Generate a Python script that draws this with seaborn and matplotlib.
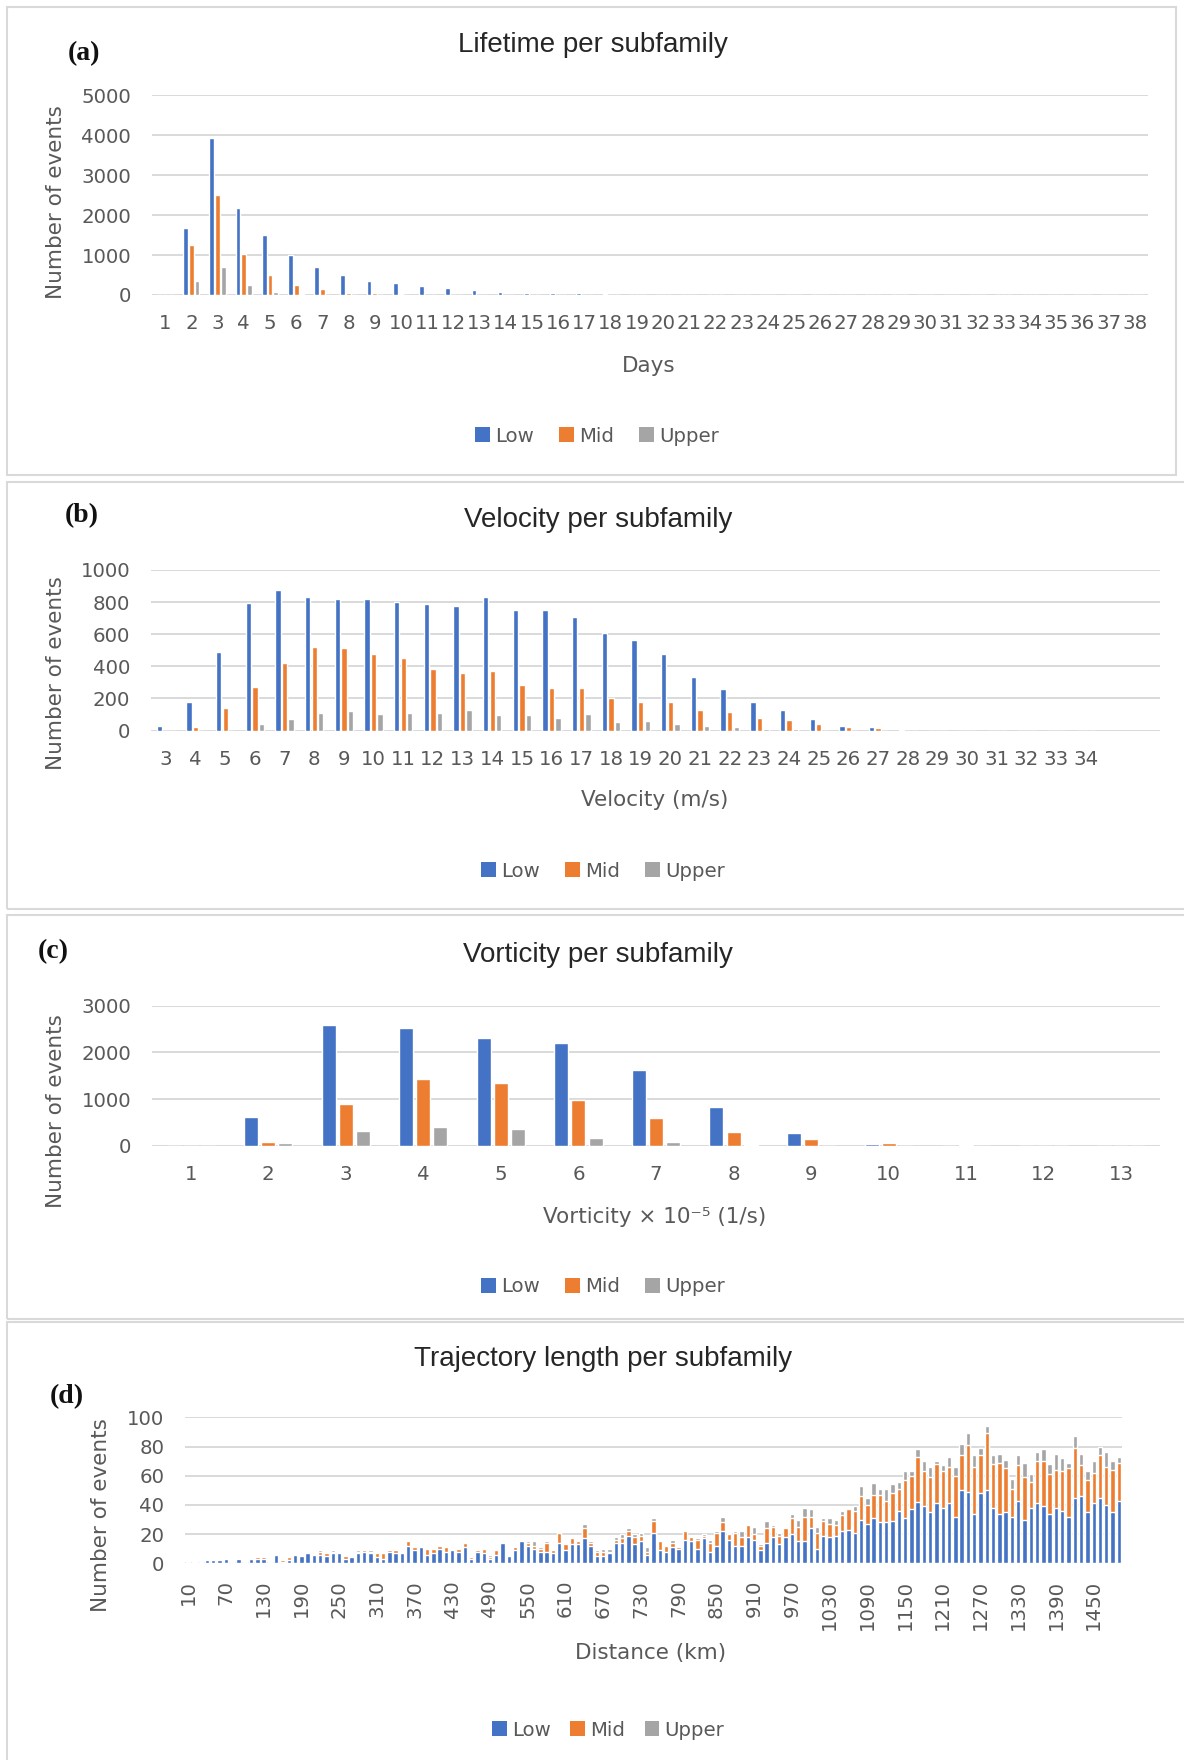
import matplotlib
matplotlib.use("Agg")
import matplotlib.pyplot as plt
from matplotlib.patches import Rectangle, Patch
import numpy as np
import pandas as pd
import seaborn as sns

# ---------------- data ----------------
levels = ["Low", "Mid", "Upper"]
level_colors = ["#4472C4", "#ED7D31", "#A5A5A5"]

# (a) lifetime in days
life_days = [str(d) for d in range(1, 39)]
life_low = [0, 1690, 3940, 2180, 1500, 990, 700, 510, 360, 290, 220, 170, 120, 70, 45, 55, 45, 25,
            0, 0, 0, 0, 0, 0, 0, 0, 0, 0, 0, 0, 0, 0, 0, 0, 0, 0, 0, 0]
life_mid = [0, 1250, 2500, 1020, 500, 255, 145, 50, 40, 25, 0, 0, 0, 0, 0, 0, 0, 0,
            0, 0, 0, 0, 0, 0, 0, 0, 0, 0, 0, 0, 0, 0, 0, 0, 0, 0, 0, 0]
life_up = [0, 360, 710, 250, 85, 25, 0, 0, 0, 0, 0, 0, 0, 0, 0, 0, 0, 0,
           0, 0, 0, 0, 0, 0, 0, 0, 0, 0, 0, 0, 0, 0, 0, 0, 0, 0, 0, 0]

# (b) velocity (m/s)
vel_bins = [str(v) for v in range(3, 35)]
vel_low = [31, 177, 488, 796, 873, 833, 819, 819, 802, 788, 773, 829, 752, 752, 708, 610,
           567, 477, 331, 260, 181, 129, 73, 31, 21, 5, 0, 0, 0, 0, 0, 0]
vel_mid = [0, 25, 138, 271, 421, 519, 515, 479, 454, 383, 356, 369, 285, 265, 265, 204,
           177, 175, 131, 115, 81, 69, 44, 23, 15, 0, 0, 0, 0, 0, 0, 0]
vel_up = [0, 0, 0, 44, 73, 108, 125, 106, 108, 108, 131, 96, 100, 79, 102, 54,
          58, 38, 29, 23, 10, 8, 0, 0, 0, 0, 0, 0, 0, 0, 0, 0]

# (c) vorticity x 1e-5 (1/s)
vort_bins = [str(v) for v in range(1, 14)]
vort_low = [0, 614, 2579, 2521, 2307, 2200, 1629, 830, 270, 50, 0, 0, 0]
vort_mid = [0, 79, 893, 1429, 1336, 979, 600, 290, 150, 70, 20, 0, 0]
vort_up = [0, 71, 329, 407, 364, 179, 93, 25, 0, 0, 0, 0, 0]

# (d) trajectory length (km), 10 km bins
dist_bins = [str(d) for d in range(10, 1500, 10)]
dist_low = [1, 1, 1, 2, 2, 2, 3, 1, 3, 1, 3, 3, 3, 0, 6, 1, 2, 6, 5, 7,
            6, 6, 5, 7, 7, 3, 4, 7, 8, 7, 4, 3, 8, 7, 7, 12, 9, 11, 6, 7,
            10, 8, 9, 8, 11, 3, 8, 7, 3, 6, 14, 5, 9, 15, 12, 10, 8, 8, 7, 14,
            9, 13, 13, 17, 12, 5, 5, 7, 14, 14, 19, 13, 15, 6, 21, 9, 8, 11, 10, 16,
            15, 10, 17, 8, 12, 22, 16, 12, 12, 18, 16, 9, 14, 18, 13, 18, 20, 15, 15, 24,
            10, 19, 18, 19, 22, 23, 21, 30, 27, 31, 28, 28, 29, 36, 31, 37, 42, 39, 35, 41,
            38, 41, 32, 50, 49, 34, 48, 50, 38, 34, 35, 32, 43, 30, 38, 41, 39, 34, 38, 36,
            32, 45, 46, 35, 41, 45, 40, 35, 43]
dist_mid = [0, 0, 0, 0, 0, 1, 0, 0, 0, 0, 0, 1, 1, 1, 0, 1, 2, 0, 0, 0,
            0, 2, 2, 1, 1, 2, 0, 1, 1, 1, 3, 4, 1, 2, 0, 3, 2, 0, 4, 3,
            2, 3, 0, 2, 3, 1, 1, 3, 1, 3, 0, 1, 2, 1, 2, 2, 2, 6, 2, 7,
            4, 4, 2, 7, 2, 3, 3, 1, 2, 3, 3, 5, 4, 2, 8, 6, 4, 3, 1, 6,
            3, 6, 2, 6, 9, 6, 4, 9, 6, 8, 4, 3, 10, 7, 6, 6, 11, 10, 17, 8,
            11, 10, 9, 7, 11, 14, 15, 16, 13, 16, 19, 15, 19, 15, 26, 23, 31, 24, 24, 27,
            25, 25, 28, 24, 32, 32, 26, 39, 30, 35, 30, 19, 24, 29, 18, 29, 31, 27, 26, 27,
            33, 34, 21, 22, 21, 29, 26, 29, 26]
dist_up = [0, 0, 0, 0, 0, 0, 0, 0, 0, 0, 0, 0, 0, 0, 0, 0, 0, 0, 0, 1,
           0, 1, 0, 1, 0, 0, 0, 1, 0, 1, 0, 0, 1, 1, 0, 1, 0, 0, 0, 0,
           0, 0, 0, 0, 0, 1, 0, 0, 2, 1, 0, 0, 1, 0, 1, 3, 1, 1, 1, 0,
           0, 0, 1, 3, 1, 1, 2, 2, 2, 3, 2, 2, 2, 3, 2, 1, 0, 2, 1, 1,
           1, 1, 1, 2, 1, 4, 1, 1, 4, 1, 5, 1, 5, 1, 2, 1, 3, 5, 6, 5,
           4, 2, 4, 4, 3, 1, 3, 7, 5, 8, 4, 8, 6, 5, 6, 3, 5, 7, 7, 2,
           4, 7, 6, 8, 8, 8, 5, 5, 6, 6, 6, 7, 7, 10, 5, 6, 8, 7, 11, 9,
           4, 8, 8, 6, 8, 6, 10, 6, 4]

# ---------------- styling ----------------
sns.set_theme(style="white")
plt.rcParams["font.family"] = ["DejaVu Sans"]

W, H = 1184, 1760
GRID = "#D9D9D9"
TXT = "#595959"
TICK_FS = 14.2
LABEL_FS = 15.5


def fx(px):
    return px / W


def fy(py):
    return 1 - py / H


def axes_box(fig, x0, x1, y_top, y_bot):
    return fig.add_axes([fx(x0), fy(y_bot), fx(x1) - fx(x0), (y_bot - y_top) / H])


def style_axes(ax, yticks, xpad=14, ypad=15):
    for s in ax.spines.values():
        s.set_visible(False)
    ax.set_axisbelow(True)
    ax.yaxis.grid(True, color=GRID, lw=1.4)
    ax.xaxis.grid(False)
    ax.set_yticks(yticks)
    ax.set_ylim(yticks[0], yticks[-1])
    ax.tick_params(axis="both", length=0, labelsize=TICK_FS, labelcolor=TXT)
    ax.tick_params(axis="x", pad=xpad)
    ax.tick_params(axis="y", pad=ypad)
    ax.set_xlabel("")
    ax.set_ylabel("")


def grouped_bars(ax, cats, low, mid, up):
    df = pd.DataFrame({
        "cat": cats * 3,
        "level": [levels[0]] * len(cats) + [levels[1]] * len(cats) + [levels[2]] * len(cats),
        "count": list(low) + list(mid) + list(up),
    })
    sns.barplot(data=df, x="cat", y="count", hue="level", order=cats,
                hue_order=levels, palette=level_colors, width=0.66, gap=0.18,
                saturation=1, errorbar=None, legend=False, ax=ax)


def legend_at(fig, x, y, colspace=1.3):
    handles = [Patch(facecolor=c, edgecolor="none") for c in level_colors]
    fig.legend(handles, levels, loc="center", bbox_to_anchor=(fx(x), fy(y)),
               ncol=3, frameon=False, handlelength=0.75, handleheight=0.75,
               handletextpad=0.25, columnspacing=colspace, fontsize=TICK_FS,
               labelcolor=TXT, borderaxespad=0)


def panel_frame(fig, x0, y0, x1, y1):
    fig.add_artist(Rectangle((fx(x0), fy(y1)), fx(x1) - fx(x0), (y1 - y0) / H,
                             transform=fig.transFigure, fill=False,
                             edgecolor=GRID, lw=1.5, clip_on=False))


def texts(fig, tag, tag_xy, title, title_xy, xlabel, xlabel_xy, ylabel_xy):
    fig.text(fx(tag_xy[0]), fy(tag_xy[1]), tag, ha="center", va="center",
             fontsize=20, fontweight="bold", family=["Liberation Serif", "DejaVu Serif"],
             color="#111111")
    fig.text(fx(title_xy[0]), fy(title_xy[1]), title, ha="center", va="center",
             fontsize=20, family=["Liberation Sans", "DejaVu Sans"], color="#262626")
    fig.text(fx(xlabel_xy[0]), fy(xlabel_xy[1]), xlabel, ha="center", va="center",
             fontsize=LABEL_FS, color=TXT)
    fig.text(fx(ylabel_xy[0]), fy(ylabel_xy[1]), "Number of events", ha="center",
             va="center", rotation=90, fontsize=LABEL_FS, color=TXT)


fig = plt.figure(figsize=(W / 100, H / 100), dpi=100)
fig.patch.set_facecolor("white")

# panel frames
panel_frame(fig, 7, 7, 1176, 475)
panel_frame(fig, 7, 482, 1200, 909)
panel_frame(fig, 7, 915, 1200, 1319)
panel_frame(fig, 7, 1322, 1200, 1780)

# (a) lifetime
ax_a = axes_box(fig, 152, 1148, 95.4, 295)
grouped_bars(ax_a, life_days, life_low, life_mid, life_up)
style_axes(ax_a, [0, 1000, 2000, 3000, 4000, 5000])
texts(fig, "(a)", (84, 54), "Lifetime per subfamily", (593, 45), "Days", (649, 366), (56, 202))
legend_at(fig, 597, 436)

# (b) velocity
ax_b = axes_box(fig, 151, 1160, 570, 730.6)
grouped_bars(ax_b, vel_bins, vel_low, vel_mid, vel_up)
ax_b.set_xlim(-0.5, len(vel_bins) + 1.5)
style_axes(ax_b, [0, 200, 400, 600, 800, 1000])
texts(fig, "(b)", (82, 516), "Velocity per subfamily", (598, 520), "Velocity (m/s)", (655, 800), (56, 673))
legend_at(fig, 603, 871)

# (c) vorticity
ax_c = axes_box(fig, 152, 1160, 1005.6, 1145.9)
grouped_bars(ax_c, vort_bins, vort_low, vort_mid, vort_up)
style_axes(ax_c, [0, 1000, 2000, 3000])
texts(fig, "(c)", (53, 952), "Vorticity per subfamily", (598, 955),
      "Vorticity × 10⁻⁵ (1/s)", (655, 1217), (56, 1111))
legend_at(fig, 603, 1287)

# (d) trajectory length, stacked
ax_d = axes_box(fig, 185, 1122, 1417.3, 1563.3)
low_arr = np.array(dist_low)
mid_arr = np.array(dist_mid)
up_arr = np.array(dist_up)
stack_layers = [low_arr + mid_arr + up_arr, low_arr + mid_arr, low_arr]
for layer, col in zip(stack_layers, level_colors[::-1]):
    sns.barplot(x=dist_bins, y=layer, order=dist_bins, color=col, width=0.7,
                saturation=1, errorbar=None, ax=ax_d)
style_axes(ax_d, [0, 20, 40, 60, 80, 100], xpad=12)
tick_pos = list(range(0, len(dist_bins), 6))
ax_d.set_xticks(tick_pos)
ax_d.set_xticklabels([dist_bins[i] for i in tick_pos], rotation=90, ha="center", va="top")
texts(fig, "(d)", (67, 1397), "Trajectory length per subfamily", (603, 1359),
      "Distance (km)", (651, 1653), (101, 1515))
legend_at(fig, 608, 1730, colspace=1.0)

fig.savefig("out.png", dpi=100, facecolor="white")
